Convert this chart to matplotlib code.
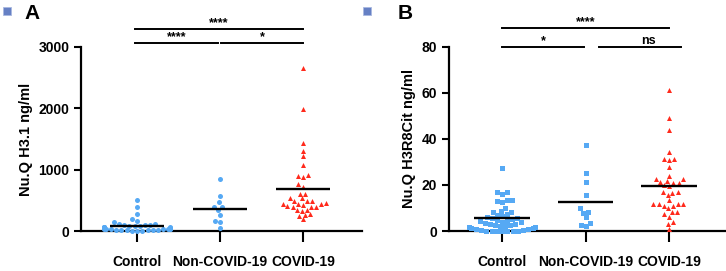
import numpy as np
import matplotlib
matplotlib.use('Agg')
import matplotlib.pyplot as plt
import seaborn as sns
from matplotlib.patches import Rectangle

plt.rcParams['font.family'] = ['Liberation Sans', 'DejaVu Sans']
plt.rcParams['font.weight'] = 'bold'

groups = ['Control', 'Non-COVID-19', 'COVID-19']

# Panel A: Nu.Q H3.1 (ng/ml)
h31_control = [505, 390, 275, 195, 160, 140, 120, 110, 100, 95, 90, 85, 80, 75, 70,
               65, 60, 58, 55, 52, 50, 48, 45, 42, 40, 38, 35, 33, 30, 28, 25, 23,
               20, 18, 15, 13, 10, 8, 5, 3]
h31_noncovid = [843, 576, 468, 397, 397, 342, 266, 158, 150, 44]
h31_covid = [2654, 1985, 1430, 1310, 1223, 1076, 910, 897, 880, 762, 723, 609, 600,
             538, 530, 495, 490, 485, 450, 445, 440, 435, 430, 400, 397, 395, 390,
             342, 340, 330, 272, 265, 250, 190]

# Panel B: Nu.Q H3R8Cit (ng/ml)
cit_control = [27.5, 17.0, 16.8, 16.3, 13.5, 13.3, 13.2, 12.8, 10.0, 8.6, 8.4, 8.2,
               7.5, 7.0, 6.5, 6.0, 5.8, 5.5, 5.2, 4.8, 4.5, 4.3, 4.0, 3.8, 3.5, 3.2,
               3.0, 2.8, 2.5, 2.3, 2.0, 1.8, 1.6, 1.4, 1.2, 1.0, 0.8, 0.5, 0.3, 0.2,
               0.1, 0.1, 0.0, 0.0, 0.0, 0.0]
cit_noncovid = [37.6, 25.0, 21.4, 15.6, 9.9, 8.2, 8.0, 6.1, 3.5, 2.8, 2.1]
cit_covid = [61.3, 49.1, 43.7, 34.4, 31.5, 31.3, 31.0, 28.0, 23.7, 22.6, 22.4, 21.6,
             21.2, 21.0, 20.8, 19.9, 19.6, 16.8, 16.6, 16.9, 15.7, 13.6, 11.8, 11.7,
             11.6, 11.9, 10.9, 10.8, 9.8, 8.3, 8.2, 7.3, 6.3, 3.8, 3.1, 1.0]

blue = '#56a9f4'
red = '#ff2a1c'

fig = plt.figure(figsize=(7.26, 2.71), dpi=100)
axA = fig.add_axes([0.1116, 0.1476, 0.387, 0.679])
axB = fig.add_axes([0.6185, 0.1476, 0.3815, 0.679])


def panel(ax, data, markers, ylim, yticks, ylabel, xlim):
    cols = [blue, blue, red]
    for i, vals in enumerate(data):
        sns.swarmplot(x=[groups[i]] * len(vals), y=vals, order=groups,
                      marker=markers[i], color=cols[i], size=3.6, linewidth=0,
                      ax=ax, clip_on=False, zorder=3)
        ax.hlines(np.mean(vals), i - 0.33, i + 0.33, color='black', lw=1.7, zorder=4)
    ax.set_xlim(*xlim)
    ax.set_ylim(*ylim)
    ax.set_yticks(yticks)
    ax.set_xticks(range(3))
    ax.set_xticklabels(groups)
    ax.set_xlabel('')
    ax.set_ylabel(ylabel, fontsize=10.5, fontweight='bold')
    for s in ['top', 'right']:
        ax.spines[s].set_visible(False)
    for s in ['left', 'bottom']:
        ax.spines[s].set_linewidth(1.6)
    ax.tick_params(axis='x', length=8, width=1.5, pad=9, labelsize=10)
    ax.tick_params(axis='y', length=5, width=1.5, labelsize=10)


def bracket(ax, x0, x1, y, label, tx=None):
    ax.plot([x0, x1], [y, y], color='black', lw=1.4, clip_on=False)
    if tx is None:
        tx = (x0 + x1) / 2
    ax.text(tx, y, label, ha='center', va='bottom', fontsize=9, clip_on=False)


panel(axA, [h31_control, h31_noncovid, h31_covid], ['o', 'o', '^'],
      (0, 3000), [0, 1000, 2000, 3000], 'Nu.Q H3.1 ng/ml', (-0.675, 2.711))
panel(axB, [cit_control, cit_noncovid, cit_covid], ['s', 's', '^'],
      (0, 80), [0, 20, 40, 60, 80], 'Nu.Q H3R8Cit ng/ml', (-0.635, 2.682))

bracket(axA, -0.02, 2.0, 3295, '****')
bracket(axA, -0.02, 0.98, 3067, '****')
bracket(axA, 1.01, 2.0, 3067, '*')
bracket(axB, 0.0, 2.0, 88.3, '****')
bracket(axB, 0.0, 0.98, 80.0, '*')
bracket(axB, 1.16, 2.14, 80.0, 'ns', tx=1.75)

fig.text(0.034, 0.985, 'A', fontsize=15, fontweight='bold', va='top')
fig.text(0.548, 0.985, 'B', fontsize=15, fontweight='bold', va='top')
for x in [3, 363]:
    fig.patches.append(Rectangle((x / 726, 1 - 15 / 271), 8 / 726, 8 / 271,
                                 transform=fig.transFigure, facecolor='#6680c4',
                                 edgecolor='#a9b9e0', lw=0.6))

fig.savefig('out.png', dpi=100)
